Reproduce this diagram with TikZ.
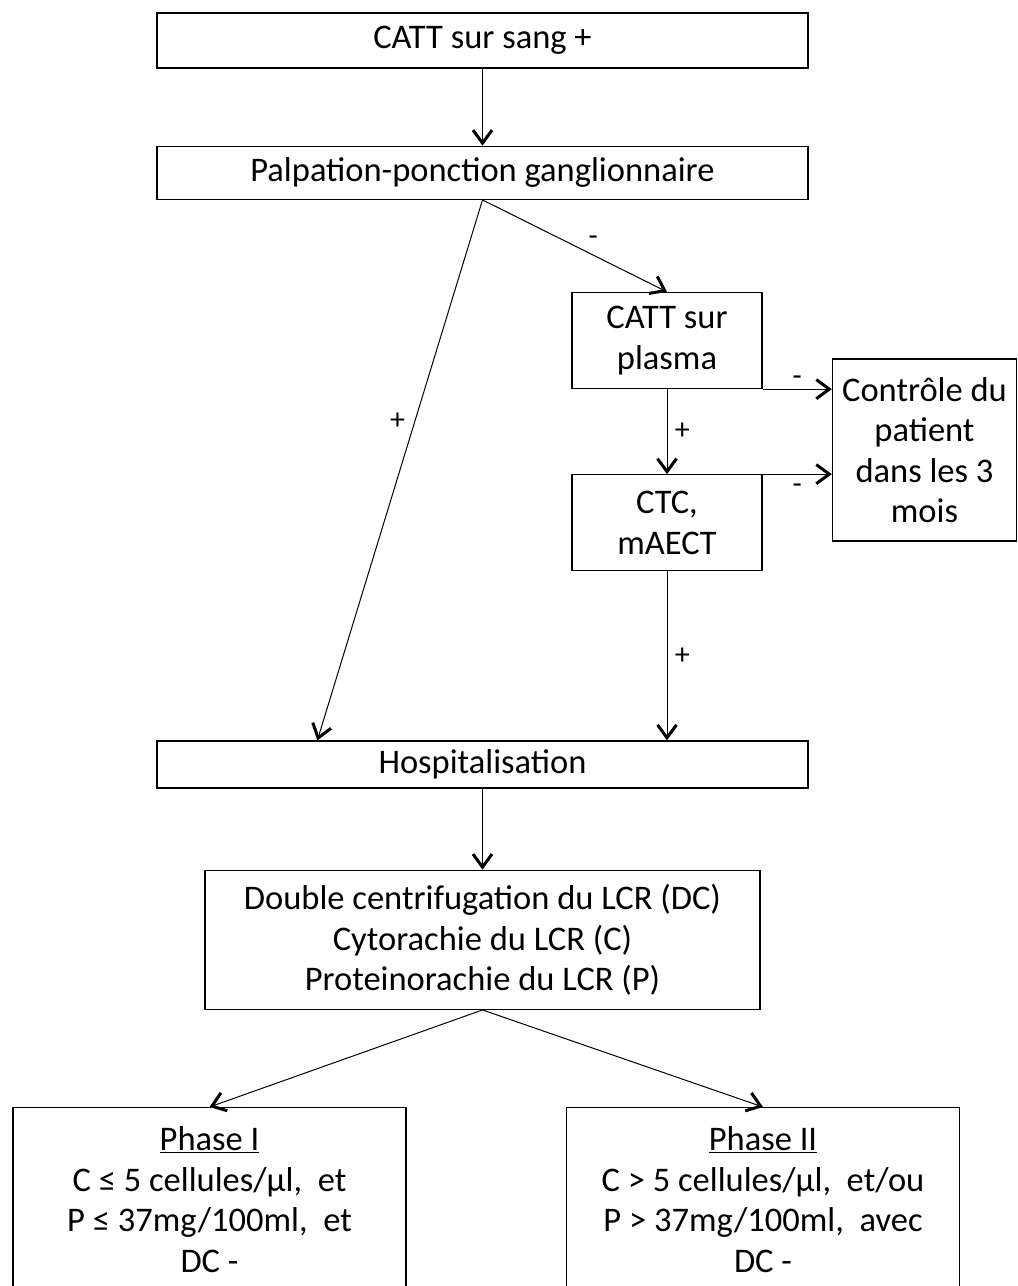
\documentclass[tikz,border=0pt]{standalone}
\usepackage{fontspec}
\setmainfont{Carlito}
\usepackage{tikz}
\usetikzlibrary{shapes.geometric, arrows}
\usetikzlibrary {arrows.meta}
\usetikzlibrary{positioning}
\tikzstyle{box} = [rectangle, draw=black, line width=1.3pt, align=center, inner sep=0pt, font=\fontsize{34.5}{40.5}\selectfont]
\tikzstyle{widebox} = [box, minimum width=651pt, minimum height=55pt]
\tikzstyle{smallbox} = [box, minimum width=190pt, minimum height=96pt]
\tikzstyle{phasebox} = [box, anchor=north, minimum width=393pt, inner ysep=19pt]
\tikzstyle{arrow} = [line width=1pt, -{Straight Barb[length=13pt,width=19pt,line width=3pt]}]
\tikzstyle{sign} = [font=\fontsize{30}{34}\selectfont]
\begin{document}
\begin{tikzpicture}[x=1pt, y=-1pt, node distance=77pt]
    \clip (0,0) rectangle (1018,1286);
    \node (s1) [widebox] at (482.5,40.5) {CATT sur sang +};
    \node (s2) [widebox, minimum height=53pt, below = of s1] {Palpation-ponction ganglionnaire};
    \node (s3) [smallbox] at (667,340.5) {CATT sur\\plasma};
    \node (s4) [smallbox, below = 85pt of s3] {CTC,\\mAECT};
    \node (s5) [box, minimum width=184pt, minimum height=182pt] at (924.5,450) {Contrôle du\\patient\\dans les 3\\mois};
    \node (s6) [widebox, minimum height=47pt] at (482.5,764.5) {Hospitalisation};
    \node (s7) [box, minimum width=555pt, minimum height=139pt, below = 81pt of s6] {Double centrifugation du LCR (DC)\\Cytorachie du LCR (C)\\Proteinorachie du LCR (P)};
    \node (s8) [phasebox] at (209.5,1107) {\underline{Phase I}\\C ≤ 5 cellules/µl,\ \ et\\P ≤ 37mg/100ml,\ \ et\\DC -};
    \node (s9) [phasebox] at (763,1107) {\underline{Phase II}\\C > 5 cellules/µl,\ \ et/ou\\P > 37mg/100ml,\ \ avec\\DC -};
    \draw [arrow] (s1) -- (s2);
    \draw [arrow] (s2.south) -- ([xshift=161pt]s6.north west) node [sign, pos=0.41, left=6pt] {+};
    \draw [arrow] (s2.south) -- (s3.north) node [sign, pos=0.6, above=6pt] {-};
    \draw [arrow] (s3) -- (s4) node [sign, midway, right=4pt] {+};
    \draw [arrow] (s3.south east) -- (s3.south east -| s5.west) node [sign, midway, above] {-};
    \draw [arrow] (s4.north east) -- (s4.north east -| s5.west) node [sign, midway, below=6pt] {-};
    \draw [arrow] (s4) -- (s4 |- s6.north) node [sign, midway, right=4pt] {+};
    \draw [arrow] (s6) -- (s7);
    \draw [arrow] (s7.south) -- (s8.north);
    \draw [arrow] (s7.south) -- (s9.north);
\end{tikzpicture}
\end{document}
